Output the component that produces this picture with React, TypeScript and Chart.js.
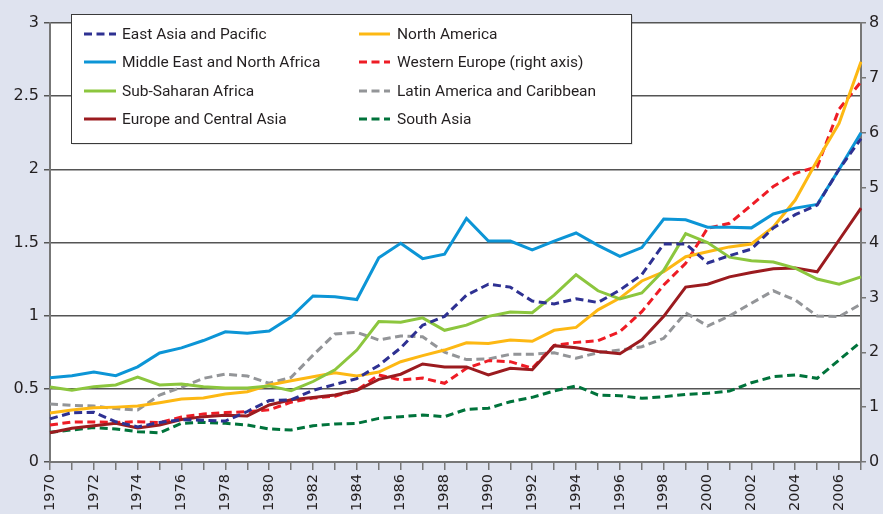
import React, { useEffect, useRef } from "react";
import { Chart, registerables } from "chart.js";

Chart.register(...registerables);

const years = [
  "1970","1971","1972","1973","1974","1975","1976","1977","1978","1979",
  "1980","1981","1982","1983","1984","1985","1986","1987","1988","1989",
  "1990","1991","1992","1993","1994","1995","1996","1997","1998","1999",
  "2000","2001","2002","2003","2004","2005","2006","2007",
];

const eastAsiaPacific = [0.295,0.337,0.34,0.275,0.24,0.27,0.29,0.285,0.28,0.345,0.42,0.425,0.49,0.53,0.57,0.66,0.78,0.935,0.995,1.14,1.215,1.195,1.10,1.08,1.115,1.09,1.175,1.28,1.49,1.49,1.36,1.41,1.455,1.6,1.69,1.755,2.0,2.21];
const middleEastNorthAfrica = [0.575,0.59,0.615,0.59,0.65,0.745,0.78,0.83,0.89,0.88,0.895,0.99,1.135,1.13,1.11,1.395,1.495,1.39,1.42,1.665,1.51,1.51,1.45,1.51,1.565,1.48,1.405,1.465,1.66,1.655,1.605,1.605,1.6,1.695,1.735,1.76,2.0,2.25];
const subSaharanAfrica = [0.513,0.49,0.515,0.526,0.58,0.526,0.533,0.515,0.505,0.505,0.52,0.487,0.55,0.63,0.765,0.96,0.955,0.985,0.9,0.935,0.995,1.025,1.02,1.14,1.28,1.17,1.115,1.155,1.31,1.56,1.5,1.4,1.375,1.367,1.325,1.25,1.215,1.265];
const europeCentralAsia = [0.2,0.23,0.248,0.265,0.232,0.253,0.29,0.31,0.32,0.315,0.39,0.425,0.44,0.458,0.49,0.565,0.6,0.67,0.65,0.65,0.595,0.64,0.63,0.795,0.78,0.755,0.74,0.835,0.995,1.195,1.215,1.265,1.295,1.32,1.325,1.3,1.517,1.735];
const northAmerica = [0.335,0.355,0.37,0.375,0.383,0.405,0.43,0.437,0.465,0.48,0.526,0.555,0.583,0.61,0.588,0.615,0.685,0.727,0.765,0.815,0.81,0.834,0.825,0.9,0.92,1.04,1.12,1.237,1.3,1.403,1.437,1.47,1.49,1.607,1.79,2.06,2.315,2.735];
const westernEurope = [0.674,0.73,0.73,0.72,0.735,0.716,0.82,0.875,0.9,0.917,0.95,1.09,1.166,1.2,1.31,1.585,1.494,1.53,1.434,1.707,1.846,1.828,1.707,2.125,2.18,2.21,2.375,2.74,3.225,3.62,4.26,4.35,4.68,5.02,5.26,5.38,6.43,6.93];
const latinAmericaCaribbean = [0.396,0.387,0.383,0.365,0.355,0.458,0.51,0.572,0.6,0.588,0.538,0.578,0.73,0.875,0.886,0.834,0.861,0.856,0.75,0.7,0.704,0.736,0.736,0.747,0.709,0.747,0.765,0.788,0.845,1.02,0.929,0.998,1.085,1.17,1.107,0.998,0.993,1.08];
const southAsia = [0.203,0.219,0.235,0.226,0.207,0.2,0.264,0.271,0.264,0.253,0.226,0.219,0.248,0.26,0.264,0.298,0.31,0.321,0.31,0.36,0.367,0.412,0.442,0.485,0.52,0.458,0.453,0.435,0.446,0.462,0.469,0.485,0.542,0.583,0.595,0.572,0.697,0.822];

const seriesNames = [
  "East Asia and Pacific",
  "Middle East and North Africa",
  "Sub-Saharan Africa",
  "Europe and Central Asia",
  "North America",
  "Western Europe (right axis)",
  "Latin America and Caribbean",
  "South Asia",
];

const DASH = [8, 4.5];

const legendPlugin = {
  id: "boxLegend",
  afterDraw(chart: any) {
    const ctx = chart.ctx;
    const x0 = 71, y0 = 14, x1 = 631, y1 = 143;
    ctx.save();
    ctx.fillStyle = "rgba(0,0,0,0.18)";
    ctx.fillRect(x0 + 1.5, y0 + 1.5, x1 - x0, y1 - y0);
    ctx.fillStyle = "#ffffff";
    ctx.fillRect(x0, y0, x1 - x0, y1 - y0);
    ctx.strokeStyle = "#3a3a3a";
    ctx.lineWidth = 1;
    ctx.strokeRect(x0 + 0.5, y0 + 0.5, x1 - x0, y1 - y0);
    const rows = [34, 62, 91, 119];
    const cols = [{ ls: 84, le: 116, tx: 122 }, { ls: 359, le: 390, tx: 397 }];
    ctx.font = "15.5px Roboto";
    ctx.textBaseline = "middle";
    chart.data.datasets.forEach((ds: any, i: number) => {
      const c = cols[Math.floor(i / 4)];
      const y = rows[i % 4];
      ctx.beginPath();
      ctx.strokeStyle = ds.borderColor;
      ctx.lineWidth = 3;
      ctx.setLineDash(ds.borderDash || []);
      ctx.moveTo(c.ls, y);
      ctx.lineTo(c.le, y);
      ctx.stroke();
      ctx.setLineDash([]);
      ctx.fillStyle = "#231f20";
      ctx.fillText(ds.label, c.tx, y + 1);
    });
    ctx.restore();
  },
};

const bgPlugin = {
  id: "plotBg",
  beforeDraw(chart: any) {
    const { ctx, chartArea } = chart;
    ctx.save();
    ctx.fillStyle = "#dfe3ef";
    ctx.fillRect(0, 0, chart.width, chart.height);
    ctx.fillStyle = "#ffffff";
    ctx.fillRect(chartArea.left, chartArea.top, chartArea.right - chartArea.left, chartArea.bottom - chartArea.top);
    ctx.restore();
  },
};

export default function App() {
  const ref = useRef<HTMLCanvasElement>(null);
  useEffect(() => {
    document.body.style.margin = "0";
    const mk = (label: string, data: number[], color: string, dashed: boolean, axis = "y") => ({
      label,
      data,
      borderColor: color,
      backgroundColor: color,
      borderWidth: 3,
      borderDash: dashed ? DASH : [],
      pointRadius: 0,
      tension: 0,
      fill: false,
      yAxisID: axis,
    });
    const chart = new Chart(ref.current!, {
      type: "line",
      data: {
        labels: years,
        datasets: [
          mk(seriesNames[0], eastAsiaPacific, "#2e3192", true),
          mk(seriesNames[1], middleEastNorthAfrica, "#0c95d6", false),
          mk(seriesNames[2], subSaharanAfrica, "#8cc63e", false),
          mk(seriesNames[3], europeCentralAsia, "#9b1b1f", false),
          mk(seriesNames[4], northAmerica, "#fdb813", false),
          mk(seriesNames[5], westernEurope, "#ee1c25", true, "y1"),
          mk(seriesNames[6], latinAmericaCaribbean, "#939598", true),
          mk(seriesNames[7], southAsia, "#00733b", true),
        ],
      },
      options: {
        responsive: false,
        animation: false,
        layout: { padding: { top: 23, left: 0, right: 0, bottom: 0 } },
        plugins: { legend: { display: false }, tooltip: { enabled: false } },
        scales: {
          x: {
            offset: false,
            grid: { drawOnChartArea: false, drawTicks: true, tickLength: 8, color: "#777", lineWidth: 1.5 },
            border: { color: "#777", width: 2 },
            ticks: {
              autoSkip: false,
              minRotation: 90,
              maxRotation: 90,
              padding: 4,
              color: "#231f20",
              font: { family: "DejaVu Sans", size: 14.5 },
              callback: (_v: any, i: number) => (i % 2 === 0 ? years[i] : ""),
            },
            afterFit: (s: any) => { s.height = 52; },
          },
          y: {
            position: "left",
            min: 0,
            max: 3,
            grid: { color: "#555", lineWidth: 1.5, tickLength: 6 },
            border: { color: "#777", width: 2 },
            ticks: {
              stepSize: 0.5,
              padding: 5,
              color: "#231f20",
              font: { family: "DejaVu Sans", size: 16 },
              callback: (v: any) => String(v),
            },
            afterFit: (s: any) => { s.width = 50; },
          },
          y1: {
            position: "right",
            min: 0,
            max: 8,
            grid: { drawOnChartArea: false, color: "#777", lineWidth: 1.5, tickLength: 5 },
            border: { color: "#777", width: 2 },
            ticks: {
              stepSize: 1,
              padding: 3,
              color: "#231f20",
              font: { family: "DejaVu Sans", size: 16 },
            },
            afterFit: (s: any) => { s.width = 22; },
          },
        },
      } as any,
      plugins: [bgPlugin, legendPlugin],
    });
    return () => chart.destroy();
  }, []);
  return (
    <div style={{ width: 883, height: 514, background: "#dfe3ef" }}>
      <canvas ref={ref} width={883} height={514} style={{ display: "block" }} />
    </div>
  );
}
